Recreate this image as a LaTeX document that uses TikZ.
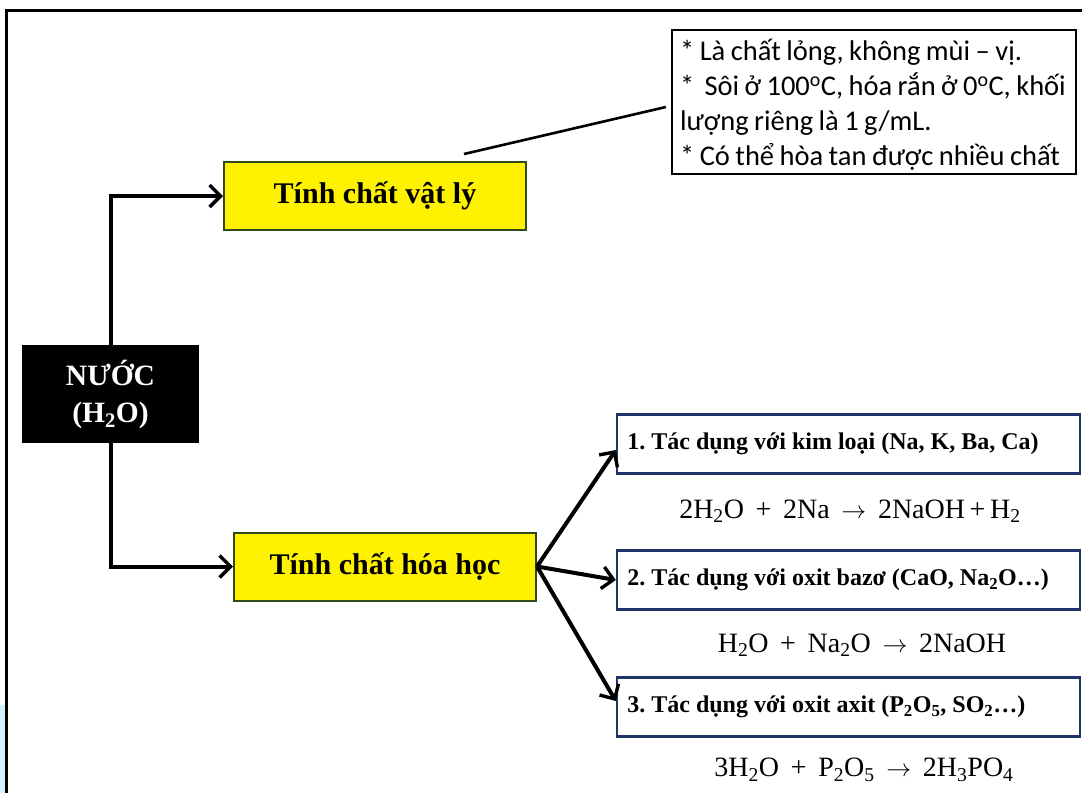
\documentclass[tikz,border=0pt]{standalone}
\usepackage{fontspec}
\setmainfont{Liberation Serif}
\newfontfamily\calib[WordSpace=0.85]{Carlito}
\usetikzlibrary{arrows.meta}
\definecolor{boxgreen}{HTML}{2F4A1A}
\definecolor{boxnavy}{HTML}{1F3468}
\definecolor{lightcyan}{HTML}{D2F2FF}
\frenchspacing
\begin{document}
\begin{tikzpicture}[x=1pt,y=-1pt,
  conn/.style={line width=4pt,-{Straight Barb[length=11pt,width=22pt,line width=3.4pt]}},
  yellowbox/.style={draw=boxgreen,line width=2pt,fill=yellow,minimum width=302pt,minimum height=68pt,font=\fontsize{30}{34}\selectfont\bfseries},
  reactbox/.style={draw=boxnavy,line width=2.4pt,fill=white,minimum width=463pt,minimum height=59pt},
  boxtext/.style={anchor=west,font=\fontsize{24}{28}\selectfont\bfseries},
  eqtext/.style={font=\fontsize{28}{32}\selectfont}
]
\useasboundingbox (0,0) rectangle (1082,793);
\fill[white] (0,0) rectangle (1082,793);
\fill[lightcyan] (0,705) rectangle (6,793);
\draw[line width=3pt] (1082,10) -- (6,10) -- (6,793);

% main node
\node[fill=black,minimum width=177pt,minimum height=98pt,text=white,align=center,
  font=\fontsize{29.5}{37}\selectfont\bfseries] (nuoc) at (110.5,394) {NƯỚC\\(H\textsubscript{2}O)};

\node[yellowbox] (phys) at (375,196) {Tính chất vật lý};
\node[yellowbox] (chem) at (385,566.5) {Tính chất hóa học};

\node[draw=black,line width=2.2pt,fill=white,minimum width=404pt,minimum height=144pt] (props) at (874,102) {};
\node[anchor=west,align=left,inner sep=0pt,
  font=\calib\fontsize{28.5}{35}\selectfont] (propstext) at ([xshift=9pt,yshift=-3pt]props.west)
  {* Là chất lỏng, không mùi – vị.\\
   {}*\, Sôi ở 100\textsuperscript{o}C, hóa rắn ở 0\textsuperscript{o}C, khối\\
   lượng riêng là 1 g/mL.\\
   {}* Có thể hòa tan được nhiều chất};

\coordinate (c1) at ([xshift=-63pt,yshift=7pt]phys.north east);
\coordinate (c2) at ([xshift=-5pt,yshift=-5pt]props.west);
\draw[line width=2.6pt] (c1) -- (c2);

\node[reactbox] (r1) at (848.5,444) {};
\node[reactbox] (r2) at (848.5,580) {};
\node[reactbox] (r3) at (848.5,707) {};

\node[boxtext] (t1) at ([xshift=8pt]r1.west) {1. Tác dụng với kim loại (Na, K, Ba, Ca)};
\node[boxtext] (t2) at ([xshift=8pt]r2.west) {2. Tác dụng với oxit bazơ (CaO, Na\textsubscript{2}O…)};
\node[boxtext] (t3) at ([xshift=8pt]r3.west) {3. Tác dụng với oxit axit (P\textsubscript{2}O\textsubscript{5}, SO\textsubscript{2}…)};

\node[eqtext] (e1) at (850,511) {2H\textsubscript{2}O \,+\, 2Na \,$\rightarrow$\, 2NaOH\,+\,H\textsubscript{2}};
\node[eqtext] (e2) at (862,645) {H\textsubscript{2}O \,+\, Na\textsubscript{2}O \,$\rightarrow$\, 2NaOH};
\node[eqtext] (e3) at (864,770) {3H\textsubscript{2}O \,+\, P\textsubscript{2}O\textsubscript{5} \,$\rightarrow$\, 2H\textsubscript{3}PO\textsubscript{4}};

\draw[conn] (nuoc.north) |- (phys.west);
\draw[conn] (nuoc.south) |- (chem.west);
\draw[conn] (chem.east) -- ([yshift=-6pt]r1.west);
\draw[conn] (chem.east) -- (r2.west);
\draw[conn] (chem.east) -- ([yshift=6pt]r3.west);
\end{tikzpicture}
\end{document}
